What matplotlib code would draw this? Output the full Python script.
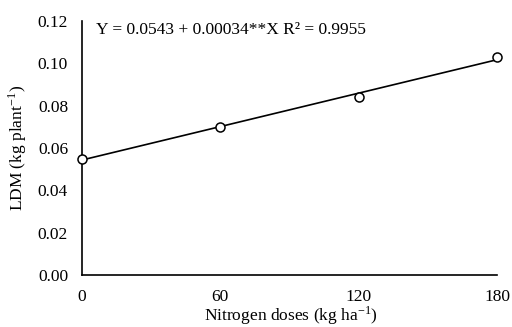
import numpy as np
import matplotlib
matplotlib.use("Agg")
import matplotlib.pyplot as plt

plt.rcParams["font.family"] = ["Liberation Serif", "DejaVu Serif"]
plt.rcParams["mathtext.fontset"] = "stix"

# data
doses = np.array([0, 60, 120, 180])
ldm = np.array([0.055, 0.070, 0.084, 0.103])
x_ticks = [0, 60, 120, 180]
y_ticks = [0.00, 0.02, 0.04, 0.06, 0.08, 0.10, 0.12]
equation = "Y = 0.0543 + 0.00034**X R² = 0.9955"

# linear fit drawn through the points
slope, intercept = np.polyfit(doses, ldm, 1)
xfit = np.array([doses.min(), doses.max()])
yfit = intercept + slope * xfit

fig = plt.figure(figsize=(5.12, 3.27), dpi=100)
ax = fig.add_axes([0.160, 0.159, 0.811, 0.777])

ax.plot(xfit, yfit, color="black", lw=1.2, clip_on=False)
ax.plot(doses, ldm, "o", mfc="white", mec="black", ms=6.5, mew=1.1,
        clip_on=False, zorder=3)

ax.set_xlim(0, 180)
ax.set_ylim(0, 0.12)
ax.set_xticks(x_ticks)
ax.set_yticks(y_ticks)
ax.set_yticklabels([f"{v:.2f}" for v in y_ticks])
ax.tick_params(axis="both", length=0, labelsize=12.5)
ax.tick_params(axis="x", pad=10)
ax.tick_params(axis="y", pad=10)

for s in ("top", "right"):
    ax.spines[s].set_visible(False)
for s in ("left", "bottom"):
    ax.spines[s].set_linewidth(1.2)

# x label placed by baseline so the descenders stay inside the canvas
fig.text(0.568, 0.018, r"Nitrogen doses (kg ha$^{\mathregular{-1}}$)",
         fontsize=12.5, ha="center", va="baseline")
ax.set_ylabel(r"LDM (kg plant$^{\mathregular{-1}}$)", fontsize=12.5, labelpad=6)

ax.text(6, 0.1155, equation, fontsize=12.5, va="center", ha="left")

fig.savefig("out.png", dpi=100)
